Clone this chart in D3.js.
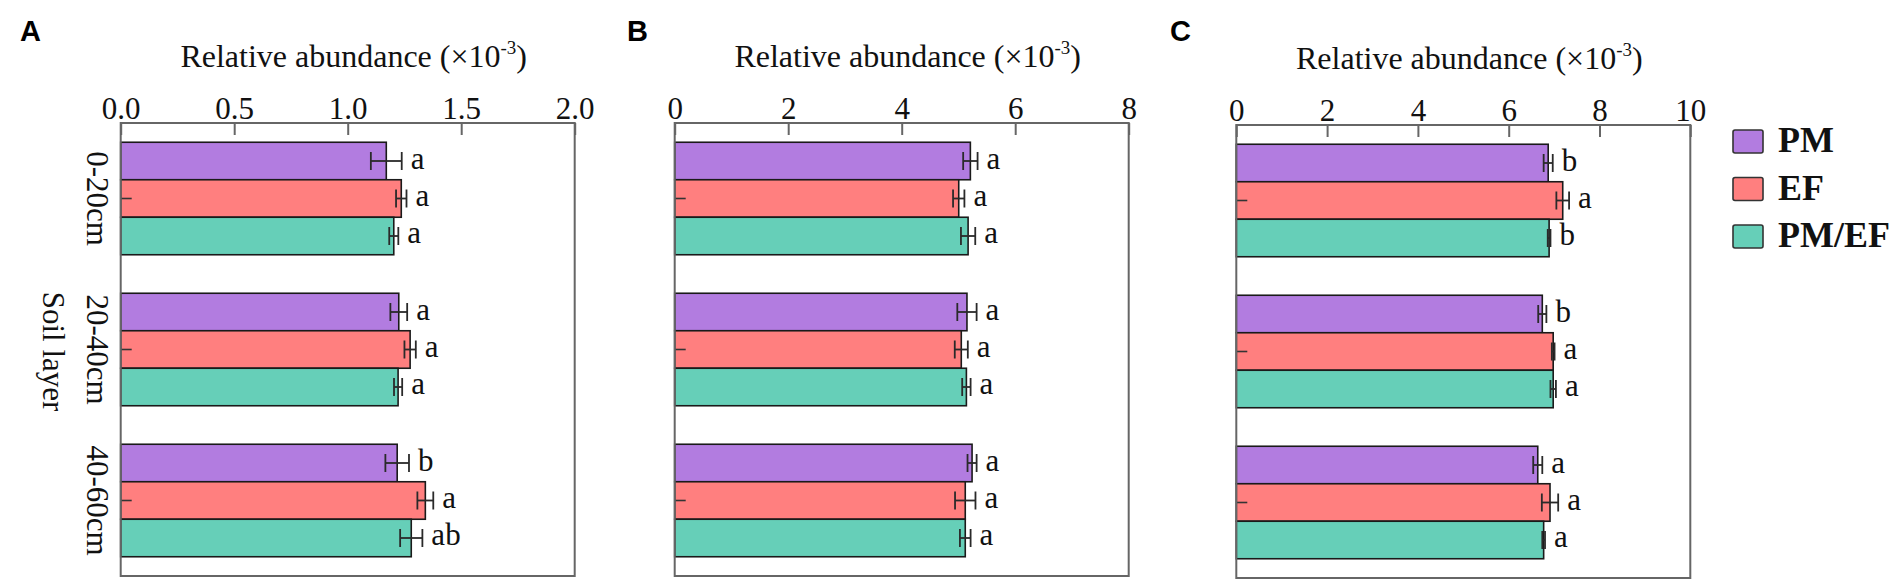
<!DOCTYPE html>
<html>
<head>
<meta charset="utf-8">
<script src="https://cdn.jsdelivr.net/npm/d3@7"></script>
<style>
  html, body { margin: 0; padding: 0; background: #fff; }
  svg { display: block; }
  .serif { font-family: "Liberation Serif", "Times New Roman", serif; }
</style>
</head>
<body>
<div id="chart"></div>
<script>
// soil layers and treatments
var layers = ['0-20cm', '20-40cm', '40-60cm'];
var groups = ['PM', 'EF', 'PM/EF'];
var colors = ['#B27CE0', '#FF7F7F', '#66CFB8'];

// panel A  (rows = layers, columns = PM, EF, PM/EF)
var meanA = [[1.17, 1.236, 1.203], [1.225, 1.275, 1.222], [1.218, 1.342, 1.28]];
var errA  = [[0.068, 0.023, 0.02], [0.037, 0.025, 0.018], [0.052, 0.035, 0.049]];
var sigA  = [['a', 'a', 'a'], ['a', 'a', 'a'], ['b', 'a', 'ab']];
var ticksA = [0, 0.5, 1.0, 1.5, 2.0];

// panel B
var meanB = [[5.21, 5.005, 5.17], [5.15, 5.05, 5.14], [5.24, 5.12, 5.12]];
var errB  = [[0.127, 0.10, 0.126], [0.17, 0.115, 0.074], [0.08, 0.18, 0.094]];
var sigB  = [['a', 'a', 'a'], ['a', 'a', 'a'], ['a', 'a', 'a']];
var ticksB = [0, 2, 4, 6, 8];

// panel C
var meanC = [[6.87, 7.19, 6.89], [6.74, 6.98, 6.98], [6.64, 6.91, 6.77]];
var errC  = [[0.1, 0.14, 0.03], [0.09, 0.03, 0.06], [0.1, 0.18, 0.03]];
var sigC  = [['b', 'a', 'b'], ['b', 'a', 'a'], ['a', 'a', 'a']];
var ticksC = [0, 2, 4, 6, 8, 10];

var W = 1890, H = 581;
var svg = d3.select('#chart').append('svg')
  .attr('width', W)
  .attr('height', H);

// layout of the three panels
var panels = [
  { letter: 'A', lx: 20,  left: 120.7,  top: 123, mean: meanA, err: errA, sig: sigA, ticks: ticksA, fmt: d3.format('.1f'), axisLabels: true },
  { letter: 'B', lx: 627, left: 674.7,  top: 123, mean: meanB, err: errB, sig: sigB, ticks: ticksB, fmt: d3.format('d') },
  { letter: 'C', lx: 1170, left: 1236.3, top: 125, mean: meanC, err: errC, sig: sigC, ticks: ticksC, fmt: d3.format('d') }
];
var pw = 454, ph = 453;

panels.forEach(function (p) {
  var g = svg.append('g')
    .attr('transform', 'translate(' + p.left + ',' + p.top + ')');

  var x = d3.scaleLinear()
    .domain([0, p.ticks[p.ticks.length - 1]])
    .range([0, pw]);
  var y = d3.scaleBand()
    .domain(layers)
    .range([0, ph])
    .paddingInner(0.255)
    .paddingOuter(0.1275);
  var yi = d3.scaleBand()
    .domain(groups)
    .range([0, y.bandwidth()]);

  // panel letter
  svg.append('text')
    .attr('x', p.lx)
    .attr('y', 41)
    .attr('font-family', '"Liberation Sans", Arial, sans-serif')
    .attr('font-weight', 'bold')
    .attr('font-size', 29)
    .text(p.letter);

  // axis title with superscript
  var title = g.append('text')
    .attr('class', 'serif')
    .attr('x', pw / 2 + 6)
    .attr('y', 67 - 123)
    .attr('text-anchor', 'middle')
    .attr('font-size', 32)
    .attr('fill', '#111');
  title.append('tspan').text('Relative abundance (\u00d710');
  title.append('tspan').attr('dy', -13).attr('font-size', 19).text('-3');
  title.append('tspan').attr('dy', 13).text(')');

  // bars
  var rows = g.selectAll('.layer')
    .data(layers)
    .enter()
    .append('g')
    .attr('class', 'layer')
    .attr('transform', function (d) { return 'translate(0,' + y(d) + ')'; });

  rows.each(function (layer, li) {
    var row = d3.select(this);
    var items = groups.map(function (gr, gi) {
      return { group: gr, gi: gi, m: p.mean[li][gi], e: p.err[li][gi], s: p.sig[li][gi] };
    });

    row.selectAll('rect')
      .data(items)
      .enter()
      .append('rect')
      .attr('x', x(0))
      .attr('y', function (d) { return yi(d.group); })
      .attr('width', function (d) { return x(d.m) - x(0); })
      .attr('height', yi.bandwidth())
      .attr('fill', function (d) { return colors[d.gi]; })
      .attr('stroke', '#1a1a1a')
      .attr('stroke-width', 1.6);

    // error bars
    var eb = row.selectAll('.err')
      .data(items)
      .enter()
      .append('g')
      .attr('class', 'err')
      .attr('stroke', '#2a2a2a')
      .attr('stroke-width', 1.8);
    eb.append('line')
      .attr('x1', function (d) { return x(d.m - d.e); })
      .attr('x2', function (d) { return x(d.m + d.e); })
      .attr('y1', function (d) { return yi(d.group) + yi.bandwidth() / 2; })
      .attr('y2', function (d) { return yi(d.group) + yi.bandwidth() / 2; });
    [-1, 1].forEach(function (s) {
      eb.append('line')
        .attr('x1', function (d) { return x(d.m + s * d.e); })
        .attr('x2', function (d) { return x(d.m + s * d.e); })
        .attr('y1', function (d) { return yi(d.group) + yi.bandwidth() / 2 - 9; })
        .attr('y2', function (d) { return yi(d.group) + yi.bandwidth() / 2 + 9; });
    });

    // small dash at the left of the EF bar
    row.append('line')
      .attr('x1', x(0))
      .attr('x2', x(0) + 11)
      .attr('y1', yi('EF') + yi.bandwidth() / 2)
      .attr('y2', yi('EF') + yi.bandwidth() / 2)
      .attr('stroke', '#333')
      .attr('stroke-width', 1.6);

    // significance letters
    row.selectAll('.sig')
      .data(items)
      .enter()
      .append('text')
      .attr('class', 'serif sig')
      .attr('x', function (d) { return x(d.m + d.e) + 9; })
      .attr('y', function (d) { return yi(d.group) + yi.bandwidth() / 2 + 7.5; })
      .attr('font-size', 31)
      .attr('fill', '#111')
      .text(function (d) { return d.s; });
  });

  // frame
  g.append('rect')
    .attr('x', 0)
    .attr('y', 0)
    .attr('width', pw)
    .attr('height', ph)
    .attr('fill', 'none')
    .attr('stroke', '#666')
    .attr('stroke-width', 2);

  // top axis, ticks pointing inward
  var axis = g.append('g')
    .call(d3.axisTop(x)
      .tickValues(p.ticks)
      .tickFormat(p.fmt)
      .tickSizeInner(-12)
      .tickSizeOuter(0)
      .tickPadding(4));
  axis.select('.domain').remove();
  axis.selectAll('line').attr('stroke', '#666').attr('stroke-width', 2);
  axis.selectAll('text')
    .attr('font-family', '"Liberation Serif", "Times New Roman", serif')
    .attr('font-size', 31)
    .attr('fill', '#111');

  // layer labels and y title, only on the first panel
  if (p.axisLabels) {
    g.selectAll('.ylab')
      .data(layers)
      .enter()
      .append('text')
      .attr('class', 'serif ylab')
      .attr('transform', function (d) {
        return 'translate(-34,' + (y(d) + y.bandwidth() / 2) + ') rotate(90)';
      })
      .attr('text-anchor', 'middle')
      .attr('font-size', 31)
      .attr('fill', '#111')
      .text(function (d) { return d; });
    g.append('text')
      .attr('class', 'serif')
      .attr('transform', 'translate(-78,' + (y(layers[1]) + y.bandwidth() / 2 + 2) + ') rotate(90)')
      .attr('text-anchor', 'middle')
      .attr('font-size', 31)
      .attr('fill', '#111')
      .text('Soil layer');
  }
});

// legend
var legend = svg.append('g')
  .attr('transform', 'translate(1733,130)');
var li = legend.selectAll('g')
  .data(groups)
  .enter()
  .append('g')
  .attr('transform', function (d, i) { return 'translate(0,' + i * 47.5 + ')'; });
li.append('rect')
  .attr('width', 30)
  .attr('height', 23)
  .attr('rx', 2)
  .attr('fill', function (d, i) { return colors[i]; })
  .attr('stroke', '#333')
  .attr('stroke-width', 1.6);
li.append('text')
  .attr('class', 'serif')
  .attr('x', 45)
  .attr('y', 22)
  .attr('font-size', 36)
  .attr('font-weight', 'bold')
  .attr('fill', '#111')
  .text(function (d) { return d; });
</script>
</body>
</html>
